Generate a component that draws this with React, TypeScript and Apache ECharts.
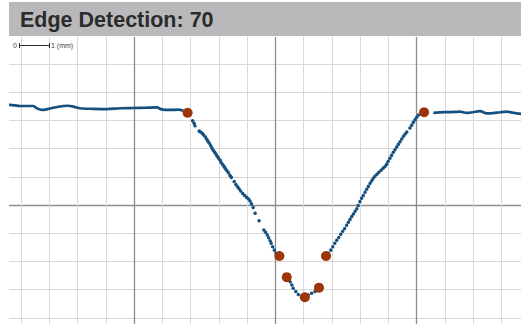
import React, { useEffect, useRef } from "react";
import * as echarts from "echarts";

const titleText = "Edge Detection: 70";
const scaleLabels = ["0", "1 (mm)"];

// Continuous profile segments (mm)
const leftProfile: number[][] = [
  [-4.5, 3.55], [-4.40, 3.55], [-4.04, 3.51], [-3.57, 3.51], [-3.45, 3.43], [-3.27, 3.37], [-3.10, 3.39],
  [-2.86, 3.45], [-2.51, 3.51], [-2.33, 3.52], [-2.16, 3.49], [-1.92, 3.43], [-1.45, 3.41],
  [-0.97, 3.40], [-0.50, 3.43], [-0.03, 3.44], [0.44, 3.45], [0.80, 3.46], [0.97, 3.39],
  [1.27, 3.37], [1.56, 3.38], [1.74, 3.34],
];
const rightProfile: number[][] = [
  [10.59, 3.27], [11.00, 3.29], [11.36, 3.30], [11.53, 3.31], [11.77, 3.27], [11.99, 3.29],
  [12.24, 3.33], [12.48, 3.25], [12.70, 3.26], [12.95, 3.29], [13.19, 3.31], [13.42, 3.27],
  [13.69, 3.23], [14.0, 3.24],
];
// Sparse measured points on the slopes (mm)
const slopePoints: number[][] = [
  [2.07, 2.99], [2.12, 2.90], [2.15, 2.81], [2.30, 2.62], [2.35, 2.59], [2.41, 2.54], [2.46, 2.48],
  [2.52, 2.41], [2.57, 2.33], [2.61, 2.26], [2.66, 2.19], [2.71, 2.10], [2.75, 2.02], [2.80, 1.94],
  [2.85, 1.87], [2.90, 1.80], [2.94, 1.73], [2.99, 1.66], [3.04, 1.59], [3.08, 1.51], [3.13, 1.44],
  [3.18, 1.37], [3.22, 1.30], [3.27, 1.23], [3.33, 1.15], [3.39, 1.05], [3.44, 0.98], [3.54, 0.83],
  [3.60, 0.73], [3.66, 0.65], [3.71, 0.58], [3.77, 0.50], [3.84, 0.41], [3.91, 0.34], [3.98, 0.27],
  [4.05, 0.21], [4.10, 0.14], [4.15, 0.04], [4.21, -0.09], [4.28, -0.29], [4.42, -0.56],
  [4.59, -0.89], [4.65, -0.97], [4.71, -1.06], [4.76, -1.16], [4.81, -1.27], [4.85, -1.36],
  [4.90, -1.48], [4.96, -1.60], [5.02, -1.71],
  [5.52, -2.72], [5.58, -2.84], [5.63, -2.95], [5.72, -3.07], [5.81, -3.17], [5.93, -3.25],
  [6.16, -3.19], [6.28, -3.13], [6.40, -3.07],
  [6.87, -1.71], [6.96, -1.60], [7.03, -1.48], [7.10, -1.36], [7.17, -1.25], [7.24, -1.15],
  [7.31, -1.04], [7.38, -0.93], [7.45, -0.83], [7.52, -0.72], [7.58, -0.61], [7.64, -0.51],
  [7.70, -0.41], [7.76, -0.32], [7.82, -0.22], [7.88, -0.13], [7.93, -0.02], [7.99, 0.12],
  [8.05, 0.24], [8.11, 0.34], [8.17, 0.45], [8.23, 0.56], [8.29, 0.66], [8.35, 0.77], [8.41, 0.86],
  [8.46, 0.95], [8.52, 1.02], [8.59, 1.09], [8.66, 1.16], [8.74, 1.23], [8.81, 1.30], [8.88, 1.37],
  [8.94, 1.45], [8.99, 1.55], [9.05, 1.66], [9.11, 1.76], [9.17, 1.87], [9.23, 1.96], [9.29, 2.06],
  [9.35, 2.15], [9.41, 2.24], [9.47, 2.34], [9.53, 2.44], [9.59, 2.52], [9.65, 2.59],
  [9.76, 2.73], [9.82, 2.83], [9.88, 2.93], [9.94, 3.02], [10.00, 3.11], [10.06, 3.19],
];
// Detected edge points (mm)
const edgePoints: number[][] = [
  [1.89, 3.27], [5.14, -1.81], [5.40, -2.56], [6.04, -3.27], [6.54, -2.93], [6.79, -1.81], [10.26, 3.29],
];

const BLUE = "#15507f";
const ORANGE = "#9c3509";

// The chart canvas is larger than the window and shifted, so the grid runs past the edges.
const OX = 10;
const OY = 80;
const W = 600;
const H = 600;

export default function App() {
  const ref = useRef<HTMLDivElement>(null);
  useEffect(() => {
    if (!ref.current) return;
    const chart = echarts.init(ref.current, undefined, { renderer: "svg" });
    const gl = -7.05 + OX;
    const gt = -77 + OY;
    const gw = 565;
    const gh = 564;
    chart.setOption({
      animation: false,
      backgroundColor: "#ffffff",
      grid: { left: gl, top: gt, right: W - gl - gw, bottom: H - gt - gh, outerBoundsMode: "none" },
      xAxis: {
        type: "value", min: -5, max: 15, interval: 5,
        axisLine: { show: false }, axisTick: { show: false }, axisLabel: { show: false },
        splitLine: { show: true, lineStyle: { color: "#8c8c8c", width: 1.3 } },
        minorTick: { show: false, splitNumber: 5 },
        minorSplitLine: { show: true, lineStyle: { color: "#d8d8d8", width: 1 } },
      },
      yAxis: {
        type: "value", min: -10, max: 10, interval: 10,
        axisLine: { show: false }, axisTick: { show: false }, axisLabel: { show: false },
        splitLine: { show: true, lineStyle: { color: "#8c8c8c", width: 1.3 } },
        minorTick: { show: false, splitNumber: 10 },
        minorSplitLine: { show: true, lineStyle: { color: "#d8d8d8", width: 1 } },
      },
      series: [
        { type: "line", data: leftProfile, showSymbol: false, smooth: 0.3, lineStyle: { color: BLUE, width: 2.7 }, z: 3 },
        { type: "line", data: rightProfile, showSymbol: false, smooth: 0.3, lineStyle: { color: BLUE, width: 2.7 }, z: 3 },
        { type: "scatter", data: slopePoints, symbolSize: 3.5, itemStyle: { color: BLUE, opacity: 1 }, z: 3 },
        { type: "scatter", data: edgePoints, symbolSize: 10, itemStyle: { color: ORANGE, opacity: 1 }, z: 4 },
      ],
      graphic: [
        { type: "rect", z: 100, shape: { x: 0, y: 0, width: OX + 9, height: H }, style: { fill: "#ffffff" } },
        { type: "rect", z: 100, shape: { x: 0, y: 0, width: W, height: OY + 37 }, style: { fill: "#ffffff" } },
        { type: "rect", z: 101, shape: { x: OX + 9, y: OY + 2, width: W, height: 34 }, style: { fill: "#b9b9bb" } },
        {
          type: "text", z: 102, x: OX + 20, y: OY + 19.5,
          style: { text: titleText, fill: "#2b2b2b", font: "bold 21.5px 'Liberation Sans', Arial, sans-serif", textVerticalAlign: "middle" },
        },
        {
          type: "text", z: 102, x: OX + 17, y: OY + 45.5,
          style: { text: scaleLabels[0], fill: "#444444", font: "7px 'Liberation Sans', Arial, sans-serif", textAlign: "right", textVerticalAlign: "middle" },
        },
        { type: "line", z: 102, shape: { x1: OX + 19.5, y1: OY + 45.5, x2: OX + 49.5, y2: OY + 45.5 }, style: { stroke: "#333333", lineWidth: 1 } },
        { type: "line", z: 102, shape: { x1: OX + 19.5, y1: OY + 43, x2: OX + 19.5, y2: OY + 48 }, style: { stroke: "#333333", lineWidth: 1 } },
        { type: "line", z: 102, shape: { x1: OX + 49.5, y1: OY + 43, x2: OX + 49.5, y2: OY + 48 }, style: { stroke: "#333333", lineWidth: 1 } },
        {
          type: "text", z: 102, x: OX + 51, y: OY + 45.5,
          style: { text: scaleLabels[1], fill: "#444444", font: "7px 'Liberation Sans', Arial, sans-serif", textVerticalAlign: "middle" },
        },
      ],
    });
    return () => chart.dispose();
  }, []);
  return <div ref={ref} style={{ position: "absolute", left: -OX, top: -OY, width: W, height: H }} />;
}
